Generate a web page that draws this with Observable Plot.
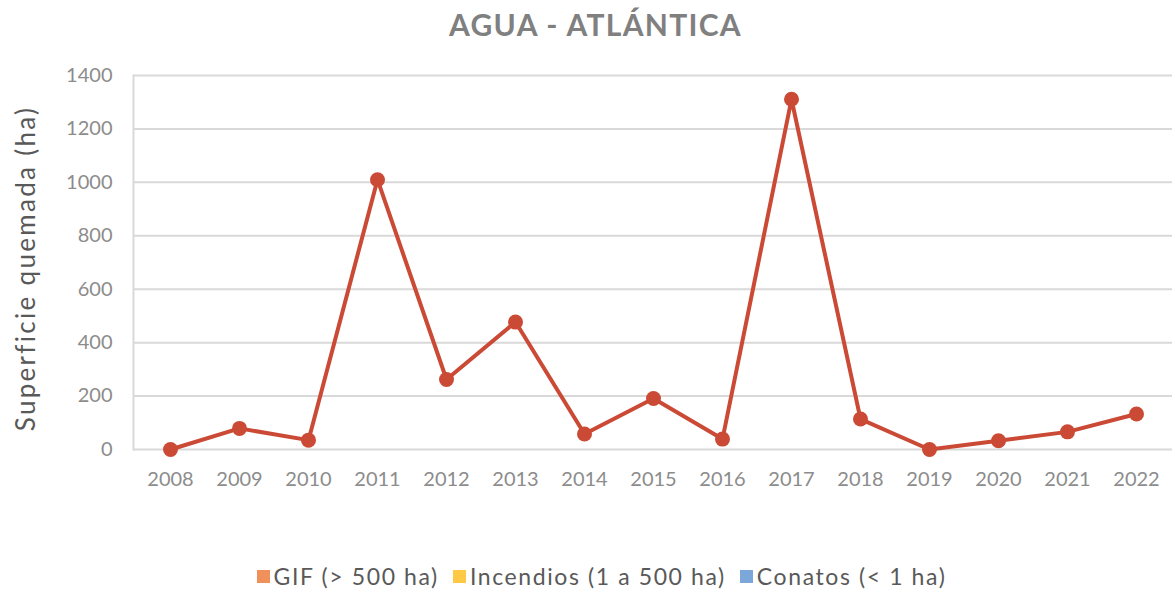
<!DOCTYPE html>
<html>
<head>
<meta charset="utf-8">
<script src="https://cdn.jsdelivr.net/npm/d3@7"></script>
<script src="https://cdn.jsdelivr.net/npm/@observablehq/plot@0.6"></script>
<style>
  html, body { margin: 0; padding: 0; background: #ffffff; }
  #wrap { position: relative; width: 1175px; height: 595px; font-family: Lato, "Open Sans", sans-serif; overflow: hidden; }
  #title { position: absolute; left: 8px; top: 0; width: 1175px; height: 48px; line-height: 48px; text-align: center;
           font-size: 30px; font-weight: bold; color: #808080; letter-spacing: 1.3px; }
  #chart { position: absolute; left: 0; top: 60px; }
  #legend { position: absolute; left: 14px; top: 556px; width: 1175px; height: 40px; display: flex; justify-content: center; align-items: center;
            font-size: 23px; color: #595959; letter-spacing: 1.6px; }
  .item { display: flex; align-items: center; margin: 0 7px; }
  .sw { width: 13px; height: 13px; margin-right: 4px; }
</style>
</head>
<body>
<div id="wrap">
  <div id="title"></div>
  <div id="chart"></div>
  <div id="legend"></div>
</div>
<script>
const titleText = "AGUA - ATLÁNTICA";
const yLabel = "Superficie quemada (ha)";
const years = ["2008","2009","2010","2011","2012","2013","2014","2015","2016","2017","2018","2019","2020","2021","2022"];
const surface = [0, 79, 35, 1010, 262, 477, 58, 191, 39, 1311, 114, 0, 33, 66, 133];
const yTicks = [0, 200, 400, 600, 800, 1000, 1200, 1400];
const legendLabels = ["GIF (> 500 ha)", "Incendios (1 a 500 ha)", "Conatos (< 1 ha)"];
const legendColors = ["#F0905A", "#FFC845", "#7BA7D9"];
const lineColor = "#CB4A36";

const data = years.map((y, i) => ({year: y, value: surface[i]}));

document.getElementById("title").textContent = titleText;

const chart = Plot.plot({
  width: 1175,
  height: 480,
  marginTop: 15,
  marginBottom: 91,
  marginLeft: 133,
  marginRight: 3,
  style: { fontFamily: "Lato, 'Open Sans', sans-serif", fontSize: "20px", color: "#8c8c8c", background: "white", overflow: "visible" },
  x: { type: "point", domain: years, padding: 0.5, label: null },
  y: { domain: [0, 1400], label: null },
  marks: [
    Plot.gridY(yTicks, { stroke: "#d9d9d9", strokeOpacity: 1, strokeWidth: 2 }),
    Plot.frame({ anchor: "left", stroke: "#d9d9d9", strokeWidth: 2 }),
    Plot.axisX({ tickSize: 0, tickPadding: 22, label: null, fill: "#8c8c8c" }),
    Plot.axisY(yTicks, { tickSize: 0, tickPadding: 21, tickFormat: d => String(d), label: null, fill: "#8c8c8c" }),
    Plot.text([yLabel], { frameAnchor: "left", textAnchor: "middle", lineAnchor: "middle", rotate: -90, dx: -107, dy: 6, fontSize: 26, fill: "#595959" }),
    Plot.line(data, { x: "year", y: "value", stroke: lineColor, strokeWidth: 4 }),
    Plot.dot(data, { x: "year", y: "value", r: 7.5, fill: lineColor, stroke: "none" })
  ]
});
d3.select(chart).selectAll("text").filter(function() { return this.textContent === yLabel; })
  .style("letter-spacing", "2.3px");
document.getElementById("chart").appendChild(chart);

const legend = document.getElementById("legend");
legendLabels.forEach((lab, i) => {
  const it = document.createElement("div");
  it.className = "item";
  const sw = document.createElement("div");
  sw.className = "sw";
  sw.style.background = legendColors[i];
  const tx = document.createElement("span");
  tx.textContent = lab;
  it.appendChild(sw);
  it.appendChild(tx);
  legend.appendChild(it);
});
</script>
</body>
</html>
